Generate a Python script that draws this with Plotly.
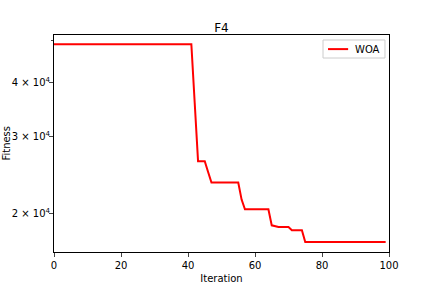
import plotly.graph_objects as go

iterations = list(range(100))
woa = ([48920] * 42
       + [35910, 26380, 26380, 26380, 24900]
       + [23560] * 9
       + [21530]
       + [20460] * 8
       + [18790, 18700, 18630, 18630, 18630, 18630]
       + [18310] * 4
       + [17210] * 25)
woa = woa[:100]

ytick_vals = [2e4, 3e4, 4e4]
ytick_text = ["2 × 10<sup>4</sup>", "3 × 10<sup>4</sup>", "4 × 10<sup>4</sup>"]
xtick_vals = [0, 20, 40, 60, 80, 100]
series_name = "WOA"

fig = go.Figure()
fig.add_trace(go.Scatter(x=iterations, y=woa, mode="lines", name=series_name,
                         line=dict(color="red", width=2), showlegend=False))

# legend drawn manually (matplotlib style)
fig.add_shape(type="rect", xref="paper", yref="paper", x0=0.803, x1=0.988,
              y0=0.894, y1=0.977, line=dict(color="#cccccc", width=1),
              fillcolor="white")
fig.add_shape(type="line", xref="paper", yref="paper", x0=0.818, x1=0.878,
              y0=0.935, y1=0.935, line=dict(color="red", width=2))
fig.add_annotation(text=series_name, xref="paper", yref="paper", x=0.893, y=0.935,
                   xanchor="left", yanchor="middle", showarrow=False,
                   font=dict(size=10))
fig.add_annotation(text="Fitness", xref="paper", yref="paper", x=-0.143, y=0.5,
                   xanchor="center", yanchor="middle", textangle=-90,
                   showarrow=False, font=dict(size=10))

fig.update_layout(
    width=432, height=288,
    margin=dict(l=54, r=43, t=35, b=36),
    paper_bgcolor="white", plot_bgcolor="white",
    font=dict(family="DejaVu Sans", size=10, color="black"),
    title=dict(text="F4", x=0.5, xanchor="center", y=0.905, yanchor="middle",
               xref="paper", font=dict(size=12)),
    showlegend=False,
)
fig.update_xaxes(range=[0, 100], tickvals=xtick_vals, ticks="outside", ticklen=4,
                 automargin=False, tickfont=dict(size=10),
                 showline=True, linecolor="black", linewidth=1, mirror=True,
                 showgrid=False, zeroline=False,
                 title=dict(text="Iteration", standoff=4, font=dict(size=10)))
fig.update_yaxes(type="log", range=[4.2127, 4.7108], tickvals=ytick_vals,
                 ticktext=ytick_text, ticks="outside", ticklen=4,
                 ticklabelstandoff=-3,
                 automargin=False, tickfont=dict(size=10),
                 minor=dict(tickvals=[5e4], ticks="outside", ticklen=2, showgrid=False),
                 showline=True, linecolor="black", linewidth=1, mirror=True,
                 showgrid=False, zeroline=False)

fig.write_html("out.html")
